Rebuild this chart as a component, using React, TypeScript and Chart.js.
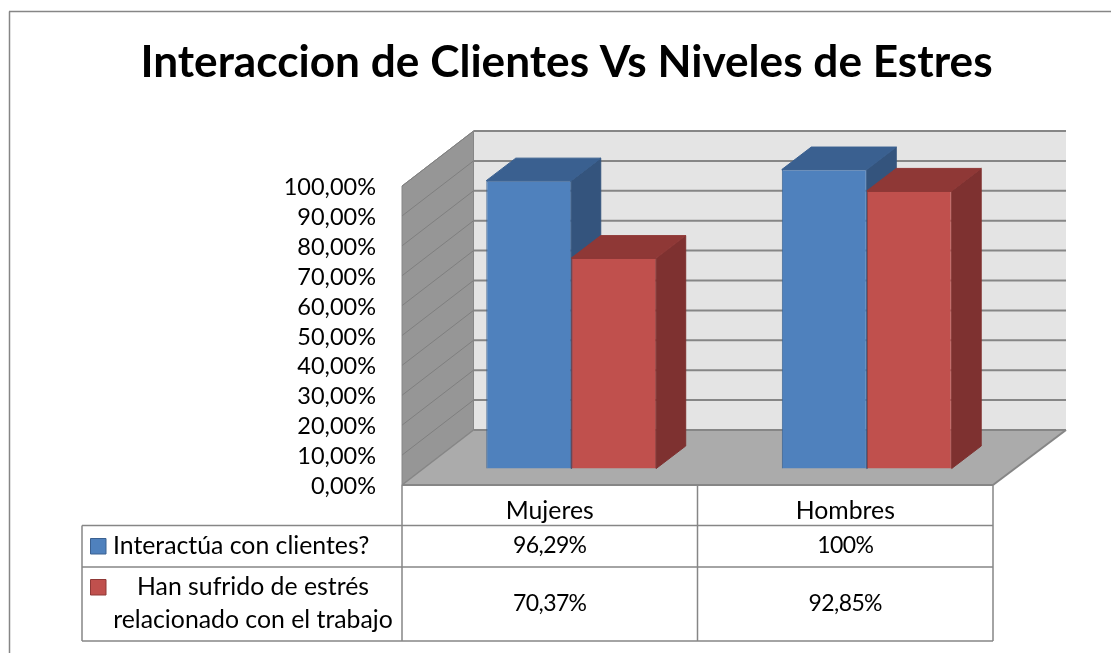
import React, { useEffect, useRef } from "react";
import { Chart, registerables } from "chart.js";

Chart.register(...registerables);

const chartTitle = "Interaccion de Clientes Vs Niveles de Estres";
const categories = ["Mujeres", "Hombres"];
const yTickLabels = ["0,00%", "10,00%", "20,00%", "30,00%", "40,00%", "50,00%", "60,00%", "70,00%", "80,00%", "90,00%", "100,00%"];
const interactuaValues = [96.29, 100];
const estresValues = [70.37, 92.85];
const interactuaLabel = "Interactúa con clientes?";
const estresLabelLines = ["Han sufrido de estrés", "relacionado con el trabajo"];
const interactuaCells = ["96,29%", "100%"];
const estresCells = ["70,37%", "92,85%"];

const LINE = "#868686";
const FONT = "Lato";
const TEXT_SIZE = 24.8;
const NUM_SIZE = 23;
const BAR_DX = 21.5;
const BAR_DY = -16.5;
const DEPTH_X = 29.5;
const DEPTH_Y = -22.5;

function poly(ctx: CanvasRenderingContext2D, pts: number[][], fill: string, stroke?: string, lw = 1) {
  ctx.beginPath();
  pts.forEach((p, i) => (i ? ctx.lineTo(p[0], p[1]) : ctx.moveTo(p[0], p[1])));
  ctx.closePath();
  ctx.fillStyle = fill;
  ctx.fill();
  if (stroke) {
    ctx.strokeStyle = stroke;
    ctx.lineWidth = lw;
    ctx.stroke();
  }
}

function seg(ctx: CanvasRenderingContext2D, x1: number, y1: number, x2: number, y2: number, color = LINE, lw = 1.5) {
  ctx.beginPath();
  ctx.moveTo(x1, y1);
  ctx.lineTo(x2, y2);
  ctx.strokeStyle = color;
  ctx.lineWidth = lw;
  ctx.stroke();
}

const faces = [
  { side: "#34547D", top: "#3A6090", edge: "#3A6090" },
  { side: "#7E3130", top: "#8F3836", edge: "#8F3836" },
];

const box3d = {
  id: "box3d",
  beforeDatasetsDraw(chart: any) {
    const ctx: CanvasRenderingContext2D = chart.ctx;
    const { left, right, top, bottom } = chart.chartArea;
    const yS = chart.scales.y;
    const backL = left + 71.5;
    const backR = right + 73;
    const backDy = -55;

    ctx.save();
    // Back wall, side wall and floor
    poly(ctx, [[backL, top + backDy], [backR, top + backDy], [backR, bottom + backDy], [backL, bottom + backDy]], "#E4E4E4");
    poly(ctx, [[left, top], [backL, top + backDy], [backL, bottom + backDy], [left, bottom]], "#969696", LINE, 1);
    poly(ctx, [[left, bottom], [backL, bottom + backDy], [backR, bottom + backDy], [right, bottom]], "#ABABAB");
    yS.ticks.forEach((t: any) => {
      const y = yS.getPixelForValue(t.value);
      seg(ctx, left, y, backL, y + backDy, t.value === 0 ? LINE : "#7F7F7F", t.value === 0 ? 1.5 : 1);
      seg(ctx, backL, y + backDy, backR, y + backDy, LINE, 2);
    });
    seg(ctx, left, bottom, right, bottom, LINE, 2);
    seg(ctx, right, bottom, backR, bottom + backDy, LINE, 2);

    // Side and top faces of the bars, behind the fronts the library draws
    chart.data.datasets.forEach((_: any, di: number) => {
      const f = faces[di];
      chart.getDatasetMeta(di).data.forEach((bar: any) => {
        const { x, y, base, width } = bar.getProps(["x", "y", "base", "width"], true);
        const l = x - width / 2 + BAR_DX;
        const r = x + width / 2 + BAR_DX;
        const t = y + BAR_DY;
        const b = base + BAR_DY;
        poly(ctx, [[r, t], [r + DEPTH_X, t + DEPTH_Y], [r + DEPTH_X, b + DEPTH_Y], [r, b]], f.side, f.side, 1);
        poly(ctx, [[l, t], [l + DEPTH_X, t + DEPTH_Y], [r + DEPTH_X, t + DEPTH_Y], [r, t]], f.top, f.edge, 1);
      });
    });
    ctx.restore();

    ctx.save();
    ctx.translate(BAR_DX, BAR_DY);
  },
  afterDatasetsDraw(chart: any) {
    chart.ctx.restore();
  },
  afterDraw(chart: any) {
    const ctx: CanvasRenderingContext2D = chart.ctx;
    const { left, right, bottom } = chart.chartArea;
    const xS = chart.scales.x;
    const mid = (left + right) / 2;
    const tableLeft = 82;
    const rowA = 525.5;
    const rowB = 567;
    const rowC = 641;

    ctx.save();
    // Outer chart frame
    seg(ctx, 9.5, 653, 9.5, 11.5);
    seg(ctx, 9, 11.5, 1111, 11.5);

    // Data table grid
    seg(ctx, left, bottom, left, rowC);
    seg(ctx, mid, bottom, mid, rowC);
    seg(ctx, right, bottom, right, rowC);
    seg(ctx, tableLeft, rowA, tableLeft, rowC);
    [rowA, rowB, rowC].forEach((y) => seg(ctx, tableLeft, y, right, y));

    // Legend keys
    poly(ctx, [[90.5, 538.5], [106, 538.5], [106, 554], [90.5, 554]], "#4F81BD", "#3A6090", 1);
    poly(ctx, [[90.5, 579.5], [106, 579.5], [106, 595], [90.5, 595]], "#C0504D", "#8F3836", 1);

    ctx.fillStyle = "#000";
    ctx.font = `${TEXT_SIZE}px ${FONT}`;
    ctx.textBaseline = "middle";
    ctx.textAlign = "left";
    ctx.fillText(interactuaLabel, 113, 546);
    ctx.textAlign = "center";
    ctx.fillText(estresLabelLines[0], 253, 587);
    ctx.fillText(estresLabelLines[1], 253, 620);
    ctx.font = `${NUM_SIZE}px ${FONT}`;
    (ctx as any).letterSpacing = "-0.6px";
    categories.forEach((_, i) => {
      const cx = xS.getPixelForTick(i);
      ctx.fillText(interactuaCells[i], cx, 546);
      ctx.fillText(estresCells[i], cx, 604);
    });
    (ctx as any).letterSpacing = "0px";
    ctx.restore();
  },
};

export default function App() {
  const ref = useRef<HTMLCanvasElement>(null);
  useEffect(() => {
    const chart = new Chart(ref.current!, {
      type: "bar",
      data: {
        labels: categories,
        datasets: [
          {
            label: interactuaLabel,
            data: interactuaValues,
            backgroundColor: "#4F81BD",
            borderColor: "#3A6090",
            borderWidth: 1,
            categoryPercentage: 0.575,
            barPercentage: 1,
            clip: false,
          },
          {
            label: estresLabelLines.join(" "),
            data: estresValues,
            backgroundColor: "#C0504D",
            borderColor: "#8F3836",
            borderWidth: 1,
            categoryPercentage: 0.575,
            barPercentage: 1,
            clip: false,
          },
        ],
      } as any,
      options: {
        responsive: false,
        animation: false,
        layout: { padding: { left: 140, right: 118, top: 0, bottom: 0 } },
        plugins: {
          legend: { display: false },
          tooltip: { enabled: false },
          title: {
            display: true,
            text: chartTitle,
            color: "#000",
            font: { family: FONT, size: 44.2, weight: "bold" },
            padding: { top: 36, bottom: 97 },
          },
        },
        scales: {
          x: {
            grid: { display: false },
            border: { display: false },
            ticks: { color: "#000", font: { family: FONT, size: TEXT_SIZE }, padding: 3, maxRotation: 0 },
            afterFit: (s: any) => {
              s.height = 168;
            },
          },
          y: {
            min: 0,
            max: 100,
            grid: { display: false },
            border: { display: false },
            ticks: {
              stepSize: 10,
              autoSkip: false,
              color: "#000",
              font: { family: FONT, size: 23.5 },
              padding: 18,
              labelOffset: 1.5,
              callback: (_v: any, i: number) => yTickLabels[i],
            },
            afterFit: (s: any) => {
              s.width = 262;
            },
          },
        },
      } as any,
      plugins: [box3d],
    });
    return () => chart.destroy();
  }, []);
  return (
    <div style={{ position: "absolute", left: 0, top: 0, width: 1111, height: 653, background: "#fff" }}>
      <canvas ref={ref} width={1111} height={653} style={{ display: "block" }} />
    </div>
  );
}
